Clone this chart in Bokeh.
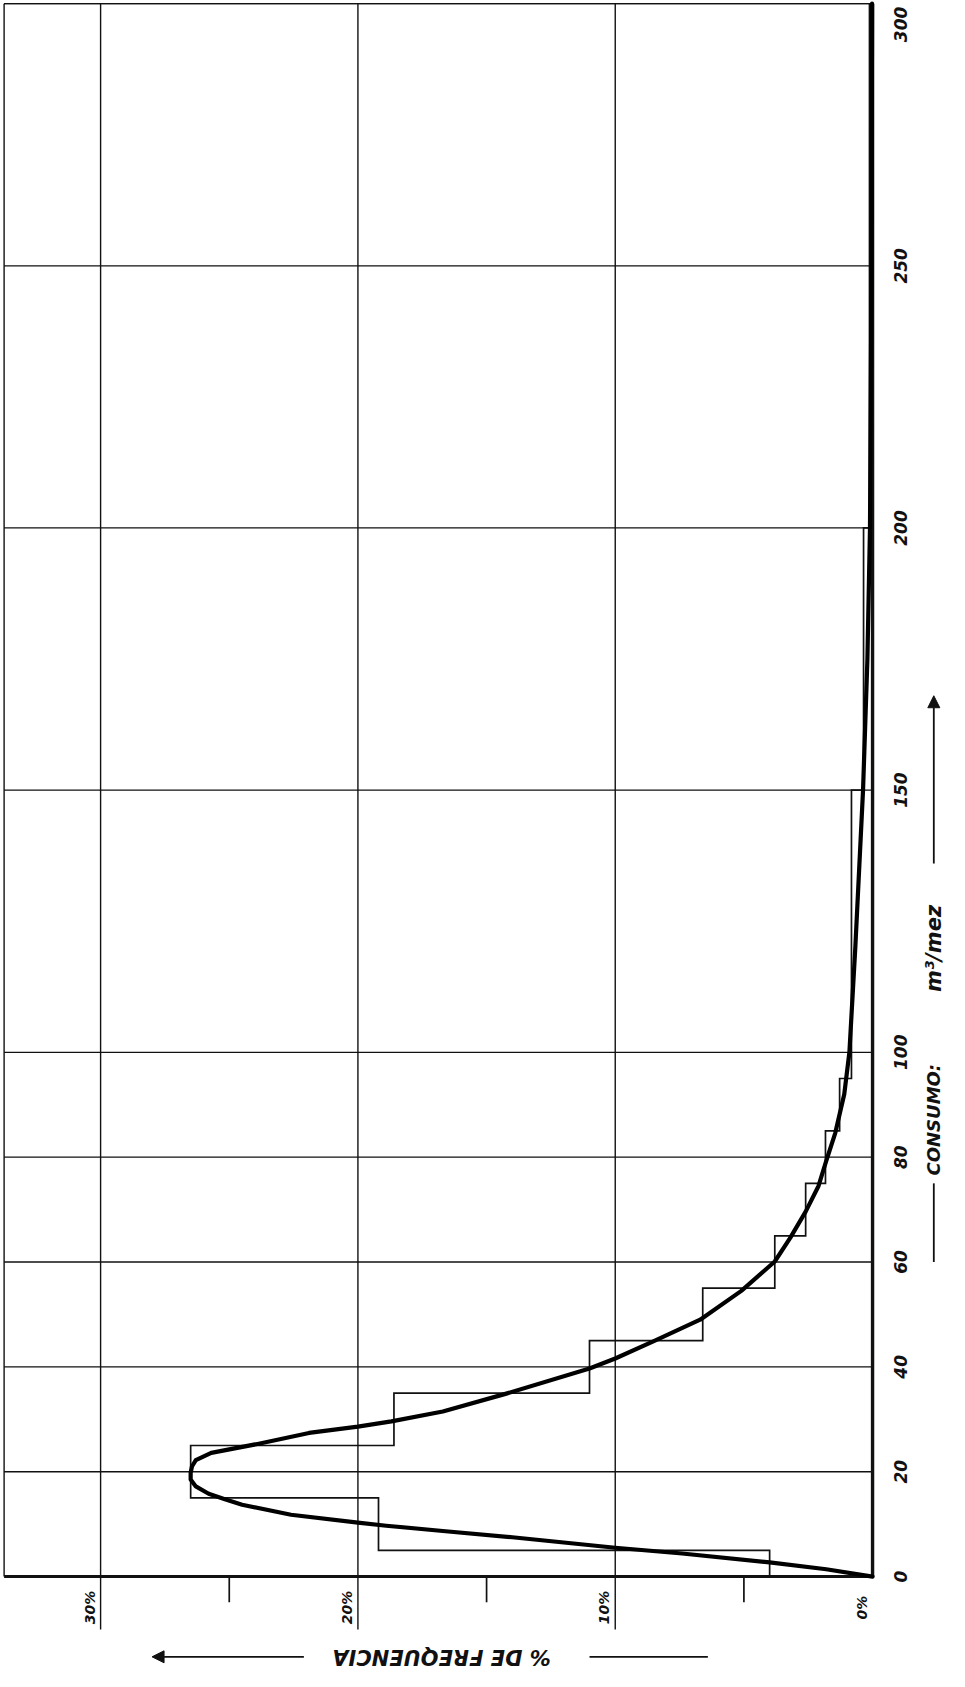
import math
from bokeh.plotting import figure
from bokeh.models import Range1d, Arrow, NormalHead
from bokeh.core.properties import value
from bokeh.embed import file_html
from bokeh.resources import INLINE

# ---------------- data ----------------
bin_edges = [0, 5, 15, 25, 35, 45, 55, 65, 75, 85, 95, 150, 200, 300]
bin_freq = [4.0, 19.2, 26.5, 18.6, 11.0, 6.6, 3.8, 2.6, 1.83, 1.28, 0.82, 0.35, 0.12]

curve_cons = [0, 1.4, 2.7, 4.4, 5.5, 7.5, 8.7, 9.7, 10.3, 11.8, 13.7, 14.8, 15.8, 17.2,
              18.5, 19.8, 21.0, 22.2, 23.6, 25.3, 27.4, 28.6, 29.6, 31.5, 34.8, 39.7,
              41.6, 44.9, 49.0, 54.5, 60.1, 64.6, 69.6, 74.5, 79.3, 84.6, 92, 100, 120,
              150, 175, 200, 250, 300]
curve_freq = [0, 1.8, 4.0, 7.4, 10.0, 14.0, 16.7, 18.9, 20.0, 22.6, 24.5, 25.2, 25.8, 26.3,
              26.5, 26.5, 26.45, 26.3, 25.7, 23.9, 21.9, 20.0, 18.7, 16.7, 14.3, 11.0,
              10.0, 8.5, 6.7, 5.1, 3.8, 3.2, 2.6, 2.1, 1.8, 1.45, 1.1, 0.9, 0.67,
              0.37, 0.2, 0.1, 0.04, 0.02]

cons_ticks = [0, 20, 40, 60, 80, 100, 150, 200, 250, 300]
cons_labels = ["0", "20", "40", "60", "80", "100", "150", "200", "250", "300"]
freq_major = [10, 20, 30]
freq_minor = [5, 15, 25]
freq_label_pos = [0, 10, 20, 30]
freq_labels = ["0%", "10%", "20%", "30%"]
x_title = "% DE FREQUENCIA"
y_title_a = "CONSUMO:"
y_title_b = "m³/mez"

# ---------------- layout constants ----------------
W, H = 949, 1671
F_LEFT, F_RIGHT = 33.89, -2.99
C_BOTTOM, C_TOP = -18.1, 300.6
F_EDGE = 33.75          # left border of the drawing
C_MAX = 300
INK = "#111111"
FONT = value("DejaVu Sans")

p = figure(width=W, height=H, x_range=Range1d(F_LEFT, F_RIGHT),
           y_range=Range1d(C_BOTTOM, C_TOP), output_backend="svg",
           toolbar_location=None, x_axis_location=None, y_axis_location=None,
           min_border=0, outline_line_color=None,
           background_fill_color="white", border_fill_color="white")
p.grid.visible = False

# horizontal grid lines (consumo)
hg = [c for c in cons_ticks if c > 0]
p.segment(x0=[F_EDGE] * len(hg), y0=hg, x1=[0] * len(hg), y1=hg,
          line_color=INK, line_width=1.3)

# vertical grid lines (frequency) with long ticks below the axis
p.segment(x0=freq_major, y0=[-10.1] * len(freq_major), x1=freq_major,
          y1=[C_MAX] * len(freq_major), line_color=INK, line_width=1.4)
# minor ticks
p.segment(x0=freq_minor, y0=[-4.9] * len(freq_minor), x1=freq_minor,
          y1=[0] * len(freq_minor), line_color=INK, line_width=1.7)

# frame borders
p.segment(x0=[F_EDGE], y0=[0], x1=[F_EDGE], y1=[C_MAX], line_color=INK, line_width=1.4)
p.segment(x0=[F_EDGE], y0=[C_MAX], x1=[0], y1=[C_MAX], line_color=INK, line_width=1.4)
# main axes (thick)
p.segment(x0=[F_EDGE], y0=[0], x1=[0], y1=[0], line_color=INK, line_width=3)
p.segment(x0=[0], y0=[0], x1=[0], y1=[C_MAX], line_color=INK, line_width=3.4)

# histogram outline (steps)
hx, hy = [], []
for i, v in enumerate(bin_freq):
    hx += [v, v]
    hy += [bin_edges[i], bin_edges[i + 1]]
p.line(hx, hy, line_color=INK, line_width=1.7, line_join="miter")

# fitted curve
p.line(curve_freq, curve_cons, line_color="black", line_width=4.2,
       line_join="round", line_cap="round")

# consumo tick labels (right side)
lab_idx = [i for i, c in enumerate(cons_ticks) if c < C_MAX]
p.text(x=[-1.1] * len(lab_idx), y=[cons_ticks[i] for i in lab_idx],
       text=[cons_labels[i] for i in lab_idx], angle=math.pi / 2,
       text_align="center", text_baseline="middle", text_font=FONT,
       text_font_style="bold italic", text_font_size="17px", text_color=INK)
top_idx = [i for i, c in enumerate(cons_ticks) if c >= C_MAX]
p.text(x=[-1.1] * len(top_idx), y=[cons_ticks[i] for i in top_idx],
       text=[cons_labels[i] for i in top_idx], angle=math.pi / 2,
       text_align="right", text_baseline="middle", text_font=FONT, y_offset=3,
       text_font_style="bold italic", text_font_size="17px", text_color=INK)

# frequency tick labels (bottom)
p.text(x=[f + 0.42 for f in freq_label_pos], y=[-5.9] * len(freq_label_pos),
       text=freq_labels, angle=math.pi / 2, text_align="center",
       text_baseline="middle", text_font=FONT, text_font_style="bold italic",
       text_font_size="14px", text_color=INK)

# x title (upside down) with arrow
TITLE_C = -15.3
p.text(x=[16.75], y=[TITLE_C], text=[x_title], angle=math.pi, text_align="center",
       text_baseline="middle", text_font=FONT, text_font_style="bold italic",
       text_font_size="21px", text_color=INK)
p.segment(x0=[11.0], y0=[TITLE_C], x1=[6.4], y1=[TITLE_C], line_color=INK, line_width=1.8)
p.add_layout(Arrow(end=NormalHead(size=12, fill_color=INK, line_color=INK),
                   x_start=22.1, y_start=TITLE_C, x_end=28.0, y_end=TITLE_C,
                   line_color=INK, line_width=1.8))

# y title (rotated) with arrow
TITLE_F = -2.38
p.text(x=[TITLE_F], y=[76.5], text=[y_title_a], angle=math.pi / 2, text_align="left",
       text_baseline="middle", text_font=FONT, text_font_style="bold italic",
       text_font_size="18px", text_color=INK)
p.text(x=[TITLE_F], y=[111.5], text=[y_title_b], angle=math.pi / 2, text_align="left",
       text_baseline="middle", text_font=FONT, text_font_style="bold italic",
       text_font_size="21px", text_color=INK)
p.segment(x0=[TITLE_F], y0=[60], x1=[TITLE_F], y1=[75], line_color=INK, line_width=1.8)
p.add_layout(Arrow(end=NormalHead(size=12, fill_color=INK, line_color=INK),
                   x_start=TITLE_F, y_start=136, x_end=TITLE_F, y_end=168,
                   line_color=INK, line_width=1.8))

open("out.html", "w").write(file_html(p, INLINE))
